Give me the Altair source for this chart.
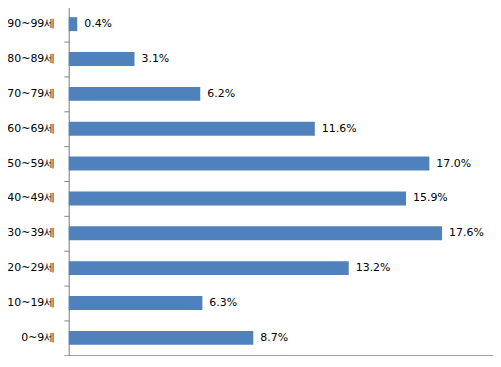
import altair as alt
import pandas as pd

categories = ["0~9세", "10~19세", "20~29세", "30~39세", "40~49세",
              "50~59세", "60~69세", "70~79세", "80~89세", "90~99세"]
values = [8.7, 6.3, 13.2, 17.6, 15.9, 17.0, 11.6, 6.2, 3.1, 0.4]
labels = [f"{v:.1f}%" for v in values]

df = pd.DataFrame({"age": categories, "pct": values, "label": labels})
order = list(reversed(categories))

gray = "#868686"
font = "DejaVu Sans"

y_enc = alt.Y(
    "age:N",
    sort=order,
    scale=alt.Scale(paddingInner=0, paddingOuter=0),
    axis=alt.Axis(
        title=None,
        domainColor=gray,
        tickColor=gray,
        tickSize=5,
        bandPosition=1,
        tickExtra=True,
        labelPadding=9,
        labelFont=font,
        labelFontSize=11,
        labelColor="#000000",
    ),
)

x_enc = alt.X(
    "pct:Q",
    scale=alt.Scale(domain=[0, 20], nice=False),
    axis=alt.Axis(
        title=None,
        values=[0, 5, 10, 15, 20],
        labels=False,
        grid=False,
        domainColor=gray,
        tickColor=gray,
        tickSize=5,
    ),
)

bars = alt.Chart(df).mark_bar(
    color="#4F81BD", height=alt.RelativeBandSize(0.4)
).encode(x=x_enc, y=y_enc)

text = alt.Chart(df).mark_text(
    align="left", baseline="middle", dx=7, font=font, fontSize=11, color="#000000"
).encode(x=alt.X("pct:Q"), y=alt.Y("age:N", sort=order), text="label:N")

chart = (bars + text).properties(
    width=426,
    height=350,
    autosize=alt.AutoSizeParams(type="none"),
    padding={"left": 61, "top": -2, "right": 0, "bottom": 0},
).configure_view(stroke=None).configure(background="#ffffff")

chart.save("out.html", embed_options={"renderer": "svg", "actions": False})
